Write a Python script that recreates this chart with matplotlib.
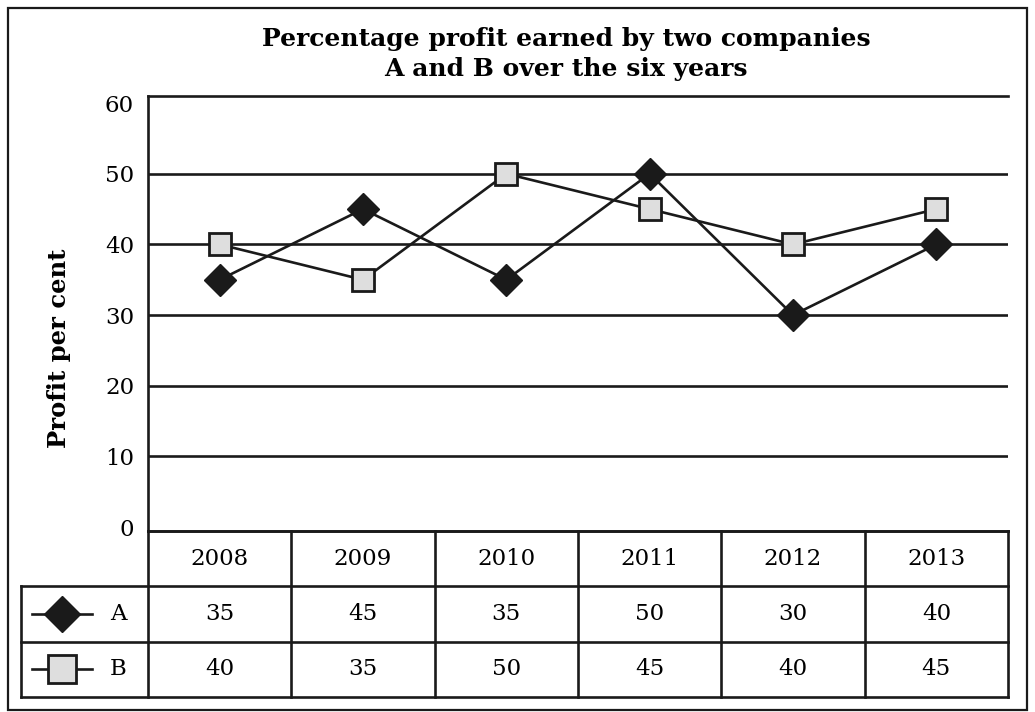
import matplotlib
matplotlib.use("Agg")
import matplotlib.pyplot as plt
from matplotlib.patches import Rectangle

years = ["2008", "2009", "2010", "2011", "2012", "2013"]
profit_a = [35, 45, 35, 50, 30, 40]
profit_b = [40, 35, 50, 45, 40, 45]
series_names = ["A", "B"]
yticks = [0, 10, 20, 30, 40, 50, 60]
title = "Percentage profit earned by two companies\nA and B over the six years"
ylabel = "Profit per cent"

plt.rcParams['font.family'] = ['DejaVu Serif']

W, H = 1035, 712
fig = plt.figure(figsize=(W / 100, H / 100), dpi=100)

def fx(px):
    return px / W

def fy(py):
    return 1 - py / H

LW = 1.9
INK = "#1a1a1a"
GRAY = "#dedede"
FS = 16.5

# outer frame
fig.patches.append(Rectangle((fx(8), fy(710)), fx(1027) - fx(8), fy(8) - fy(710),
                             transform=fig.transFigure, fill=False, lw=1.6,
                             edgecolor=INK))

# main plot axes
left, right, top, bottom = 148, 1008, 96, 531
ax = fig.add_axes([fx(left), fy(bottom), fx(right) - fx(left), fy(top) - fy(bottom)])
x = list(range(len(years)))
ax.set_xlim(-0.5, len(years) - 0.5)
ax.set_ylim(-0.55, 61)
for g in yticks[1:-1]:
    ax.axhline(g, color=INK, lw=LW, zorder=1)
ax.plot(x, profit_a, color=INK, lw=LW, marker="D", markersize=16.5,
        markerfacecolor=INK, markeredgecolor=INK, zorder=3, clip_on=False)
ax.plot(x, profit_b, color=INK, lw=LW, marker="s", markersize=16,
        markerfacecolor=GRAY, markeredgecolor=INK, markeredgewidth=2.0, zorder=4,
        clip_on=False)
ax.set_yticks(yticks)
ax.set_yticklabels([str(v) for v in yticks], fontsize=FS)
ax.set_xticks([])
ax.tick_params(axis="y", length=0, pad=10)
ax.spines["right"].set_visible(False)
for s in ["left", "top", "bottom"]:
    ax.spines[s].set_linewidth(LW)
    ax.spines[s].set_color(INK)
ax.set_ylabel(ylabel, fontsize=17.5, fontweight="bold")
ax.yaxis.set_label_coords(-0.09, 0.42)

fig.text(fx(566), fy(54), title, ha="center", va="center", fontsize=18,
         fontweight="bold", linespacing=1.35)

# data table axes
tl, tr, tt, tb = 21, 1008, 531, 697
tax = fig.add_axes([fx(tl), fy(tb), fx(tr) - fx(tl), fy(tt) - fy(tb)])
unit = (right - left) / len(years)
x0 = -0.5 - (left - tl) / unit
tax.set_xlim(x0, len(years) - 0.5)
tax.set_ylim(0, 3)
tax.axis("off")
kw = dict(color=INK, lw=LW, solid_capstyle="projecting", clip_on=False)
tax.plot([-0.5, len(years) - 0.5], [3, 3], **kw)
for yy in [2, 1, 0]:
    tax.plot([x0, len(years) - 0.5], [yy, yy], **kw)
tax.plot([x0, x0], [0, 2], **kw)
for i in range(len(years) + 1):
    tax.plot([i - 0.5, i - 0.5], [0, 3], **kw)
for i, yr in enumerate(years):
    tax.text(i, 2.5, yr, ha="center", va="center", fontsize=FS)
for i, v in enumerate(profit_a):
    tax.text(i, 1.5, str(v), ha="center", va="center", fontsize=FS)
for i, v in enumerate(profit_b):
    tax.text(i, 0.5, str(v), ha="center", va="center", fontsize=FS)

# legend symbols in table
lx = [x0 + (32 - tl) / unit, x0 + (92 - tl) / unit]
mx = x0 + (62 - tl) / unit
tx = x0 + (118 - tl) / unit
tax.plot(lx, [1.5, 1.5], color=INK, lw=LW)
tax.plot([mx], [1.5], marker="D", markersize=18, color=INK)
tax.text(tx, 1.5, series_names[0], ha="center", va="center", fontsize=FS)
tax.plot(lx, [0.5, 0.5], color=INK, lw=LW)
tax.plot([mx], [0.5], marker="s", markersize=20, markerfacecolor=GRAY,
         markeredgecolor=INK, markeredgewidth=2.0)
tax.text(tx, 0.5, series_names[1], ha="center", va="center", fontsize=FS)

fig.savefig("out.png", dpi=100)
